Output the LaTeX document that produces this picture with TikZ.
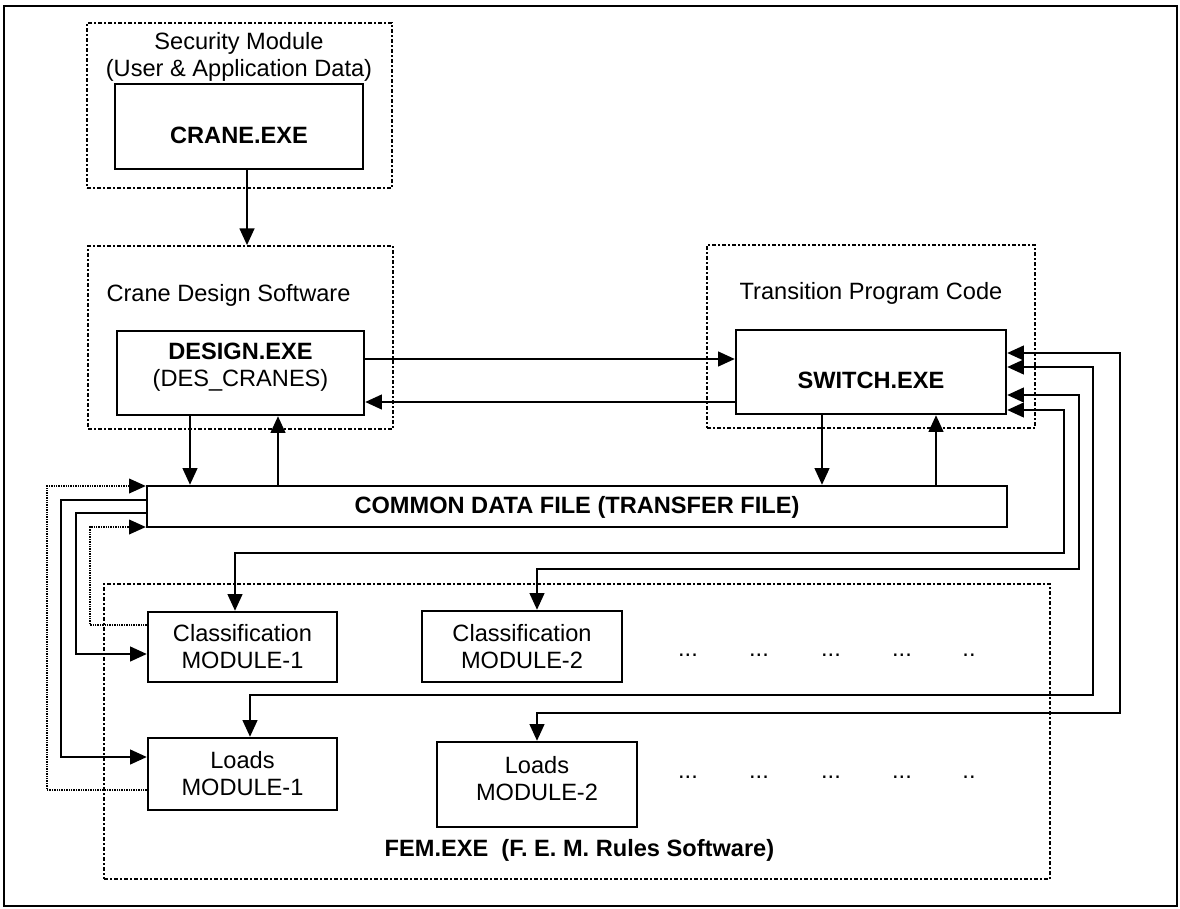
\documentclass[tikz,border=0pt]{standalone}
\usepackage{fontspec}
\setmainfont{Liberation Sans}
\usetikzlibrary{arrows.meta,fit}
\frenchspacing
\begin{document}
\begin{tikzpicture}[x=0.75pt,y=-0.75pt,
  >={Triangle[length=12.5pt,width=11pt]},
  fnt/.style={font=\fontsize{17.7}{20.25}\selectfont},
  bfnt/.style={font=\fontsize{17.7}{20.25}\selectfont\bfseries},
  box/.style={draw, line width=1.8pt, inner sep=0pt},
  grp/.style={draw, line width=1.3pt, dash pattern=on 3pt off 1.8pt on 0.9pt off 1.8pt, inner sep=0pt},
  conn/.style={line width=1.6pt},
  dconn/.style={line width=1.1pt, dash pattern=on 1pt off 0.8pt},
  frm/.style={draw, line width=1.7pt, inner sep=0pt}]
\useasboundingbox (0,0) rectangle (1180,909);

\node[frm, fit={(4,6) (1177,906)}] (frame) {};

% Security module
\node[grp, fit={(87,23) (392,188)}] (secgrp) {};
\node[fnt, align=center] (sectitle) at (239,57) {Security Module\\(User \& Application Data)};
\node[box, fit={(115,84) (363,169)}] (crane) {};
\node[bfnt] (cranetxt) at (239,135) {CRANE.EXE};

% Crane design software
\node[grp, fit={(88,246) (393,429)}] (desgrp) {};
\node[fnt] (destitle) at (228.5,295) {Crane Design Software};
\node[box, fit={(117,331) (364,415)}] (design) {};
\node[fnt, align=center] (destxt) at (240.5,367.5) {\textbf{DESIGN.EXE}\\(DES\_CRANES)};

% Transition program
\node[grp, fit={(707,245) (1035,428)}] (trgrp) {};
\node[fnt] (trtitle) at (871,293) {Transition Program Code};
\node[box, fit={(736,330) (1006,414)}] (switch) {};
\node[bfnt] (swtxt) at (871,380) {SWITCH.EXE};

% Common data file
\node[box, fit={(147,486) (1007,527)}] (cdf) {};
\node[bfnt] (cdftxt) at (577,507) {COMMON DATA FILE (TRANSFER FILE)};

% FEM
\node[grp, fit={(104,584) (1050,879)}] (femgrp) {};
\node[bfnt, anchor=west] (femtxt) at (380,850) {FEM.EXE\ \ (F. E. M. Rules Software)};

\node[box, fit={(148,612) (337,682)}] (cls1) {};
\node[fnt, align=center] (cls1txt) at (242.5,647) {Classification\\MODULE-1};
\node[box, fit={(422,611) (622,682)}] (cls2) {};
\node[fnt, align=center] (cls2txt) at (522,647) {Classification\\MODULE-2};
\node[box, fit={(148,738) (337,810)}] (lds1) {};
\node[fnt, align=center] (lds1txt) at (242.5,774) {Loads\\MODULE-1};
\node[box, fit={(437,742) (637,827)}] (lds2) {};
\node[fnt, align=center] (lds2txt) at (537,779) {Loads\\MODULE-2};

% dots
\node[fnt] (da1) at (688,655) {...};
\node[fnt] (da2) at (759,655) {...};
\node[fnt] (da3) at (831,655) {...};
\node[fnt] (da4) at (902,655) {...};
\node[fnt] (da5) at (969,655) {..};
\node[fnt] (db1) at (688,777) {...};
\node[fnt] (db2) at (759,777) {...};
\node[fnt] (db3) at (831,777) {...};
\node[fnt] (db4) at (902,777) {...};
\node[fnt] (db5) at (969,777) {..};

% connectors
\draw[conn,->] (crane.south -| 247,0) -- (desgrp.north -| 247,0);
\draw[conn,->] (design.east |- 0,359) -- (switch.west |- 0,359);
\draw[conn,->] (switch.west |- 0,402) -- (design.east |- 0,402);
\draw[conn,->] (design.south -| 190,0) -- (cdf.north -| 190,0);
\draw[conn,->] (cdf.north -| 278,0) -- (design.south -| 278,0);
\draw[conn,->] (switch.south -| 822,0) -- (cdf.north -| 822,0);
\draw[conn,->] (cdf.north -| 936,0) -- (switch.south -| 936,0);

\draw[conn,<->] (switch.east |- 0,410) -| (1064,553) -| (cls1.north -| 235,0);
\draw[conn,<->] (switch.east |- 0,395) -| (1079,569) -| (cls2.north -| 537,0);
\draw[conn,<->] (switch.east |- 0,367) -| (1093,695) -| (lds1.north -| 250,0);
\draw[conn,<->] (switch.east |- 0,353) -| (1120,713) -| (lds2.north -| 537,0);

\draw[dconn,->] (lds1.west |- 0,790) -| (47,486) -- (cdf.west |- 0,486);
\draw[conn,->] (cdf.west |- 0,500) -| (61,757) -- (lds1.west |- 0,757);
\draw[conn,->] (cdf.west |- 0,513) -| (76,654) -- (cls1.west |- 0,654);
\draw[dconn,->] (cls1.west |- 0,625) -| (90,527) -- (cdf.west |- 0,527);
\end{tikzpicture}
\end{document}
